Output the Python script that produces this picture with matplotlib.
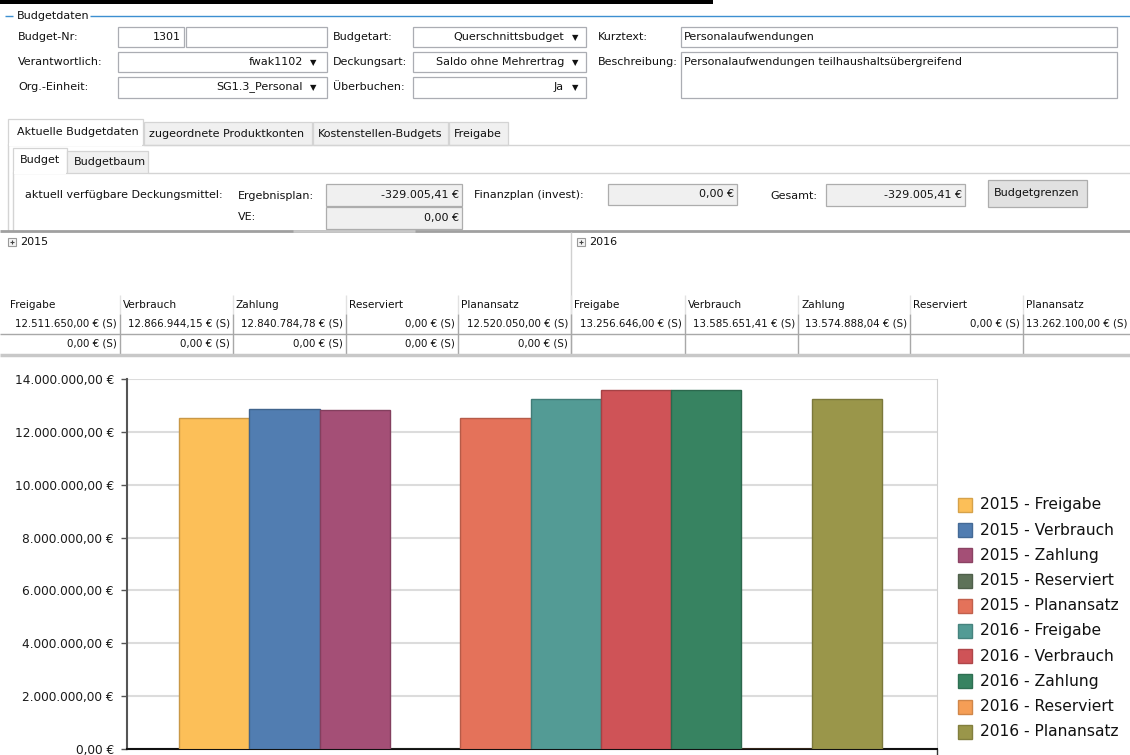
import matplotlib
matplotlib.use("Agg")
import matplotlib.pyplot as plt
from matplotlib.patches import Rectangle

plt.rcParams['font.family'] = ['DejaVu Sans']

# ---------------- data ----------------
years = ["2015", "2016"]
measures = ["Freigabe", "Verbrauch", "Zahlung", "Reserviert", "Planansatz"]
values_2015 = [12511650.00, 12866944.15, 12840784.78, 0.00, 12520050.00]
values_2016 = [13256646.00, 13585651.41, 13574888.04, 0.00, 13262100.00]
values_2015_row2 = [0.00, 0.00, 0.00, 0.00, 0.00]
series_labels = [f"{y} - {m}" for y in years for m in measures]
series_values = values_2015 + values_2016
series_colors = ["#FCBF58", "#517DB1", "#A44F76", "#5E7259", "#E4725A",
                 "#539B95", "#CF5357", "#378361", "#F59E56", "#9A964A"]
y_ticks = [0, 2e6, 4e6, 6e6, 8e6, 10e6, 12e6, 14e6]

form_left = [("Budget-Nr:", "1301"), ("Verantwortlich:", "fwak1102"), ("Org.-Einheit:", "SG1.3_Personal")]
form_mid = [("Budgetart:", "Querschnittsbudget"), ("Deckungsart:", "Saldo ohne Mehrertrag"), ("Überbuchen:", "Ja")]
kurztext = "Personalaufwendungen"
beschreibung = "Personalaufwendungen teilhaushaltsübergreifend"
tabs = ["Aktuelle Budgetdaten", "zugeordnete Produktkonten", "Kostenstellen-Budgets", "Freigabe"]
subtabs = ["Budget", "Budgetbaum"]
ergebnisplan = -329005.41
ve = 0.00
finanzplan = 0.00
gesamt = -329005.41


def de(v, dec=2):
    s = f"{v:,.{dec}f}"
    return s.replace(",", "X").replace(".", ",").replace("X", ".")


# ---------------- figure ----------------
W, H = 1130, 755
fig = plt.figure(figsize=(W / 100, H / 100), dpi=100)
ui = fig.add_axes([0, 0, 1, 1])
ui.set_xlim(0, W)
ui.set_ylim(H, 0)
ui.axis("off")

FS = 8.0
BOX_EC = "#abadb3"


def box(x0, y0, x1, y1, fc="white", ec=BOX_EC, lw=0.9):
    ui.add_patch(Rectangle((x0, y0), x1 - x0, y1 - y0, fc=fc, ec=ec, lw=lw))


def txt(x, y, s, ha="left", size=FS, color="#111111"):
    ui.text(x, y, s, ha=ha, va="center", fontsize=size, color=color)


def hline(y, x0, x1, color, lw=1.0):
    ui.plot([x0, x1], [y, y], color=color, lw=lw, solid_capstyle="butt")


def vline(x, y0, y1, color, lw=1.0):
    ui.plot([x, x], [y0, y1], color=color, lw=lw, solid_capstyle="butt")


# top black bar
ui.add_patch(Rectangle((0, 0), 713, 4, fc="black", ec="none"))

# group header
hline(16, 5, 13, "#3d8fd1", 1.0)
txt(17, 16, "Budgetdaten")
hline(16, 90, W, "#3d8fd1", 1.0)

rows_y = [37, 62, 87]
rows_box = [(27, 47), (52, 72), (77, 98)]
for i, ((lab, val), (lab2, val2)) in enumerate(zip(form_left, form_mid)):
    yc = rows_y[i]
    y0, y1 = rows_box[i]
    txt(18, yc, lab)
    if i == 0:
        box(118, y0, 184, y1)
        box(186, y0, 327, y1)
        txt(181, yc, val, ha="right")
    else:
        box(118, y0, 327, y1)
        txt(303, yc, val, ha="right")
        txt(313, yc + 1, "▼", ha="center", size=6)
    txt(333, yc, lab2)
    box(413, y0, 586, y1)
    txt(564, yc, val2, ha="right")
    txt(575, yc + 1, "▼", ha="center", size=6)

txt(598, 37, "Kurztext:")
box(681, 27, 1117, 47)
txt(684, 37, kurztext)
txt(598, 62, "Beschreibung:")
box(681, 52, 1117, 98)
txt(684, 62, beschreibung)

# tabs
TAB_EC = "#d4d4d4"
hline(144.5, 143, W, TAB_EC)
tab_x = [(8, 143), (144, 312), (313, 448), (449, 508)]
for i, (t, (x0, x1)) in enumerate(zip(tabs, tab_x)):
    if i == 0:
        box(x0, 119, x1, 145, fc="white", ec=TAB_EC)
        ui.add_patch(Rectangle((x0 + 0.8, 143), x1 - x0 - 1.6, 3, fc="white", ec="none", zorder=3))
        txt(x0 + 9, 132, t)
    else:
        box(x0, 122, x1, 144.5, fc="#f0f0f0", ec=TAB_EC)
        txt(x0 + 5, 134, t)
vline(8, 144, 231, TAB_EC)

hline(172.5, 148, W, TAB_EC)
sub_x = [(13, 67), (67, 148)]
for i, (t, (x0, x1)) in enumerate(zip(subtabs, sub_x)):
    if i == 0:
        box(x0, 148, x1, 173, fc="white", ec=TAB_EC)
        ui.add_patch(Rectangle((x0 + 0.8, 171), x1 - x0 - 1.6, 3, fc="white", ec="none", zorder=3))
        txt(x0 + 7, 160, t)
    else:
        box(x0, 151, x1, 172.5, fc="#f0f0f0", ec=TAB_EC)
        txt(x0 + 7, 162, t)
vline(13, 172, 231, TAB_EC)

# Deckungsmittel row
DIS = "#f0f0f0"
DIS_EC = "#adadad"
txt(25, 195, "aktuell verfügbare Deckungsmittel:")
txt(238, 196, "Ergebnisplan:")
box(326, 184, 462, 206, fc=DIS, ec=DIS_EC)
txt(459, 195, de(ergebnisplan) + " €", ha="right")
txt(474, 195, "Finanzplan (invest):")
box(608, 184, 737, 205, fc=DIS, ec=DIS_EC)
txt(734, 194, de(finanzplan) + " €", ha="right")
txt(770, 196, "Gesamt:")
box(826, 184, 965, 206, fc=DIS, ec=DIS_EC)
txt(962, 195, de(gesamt) + " €", ha="right")
box(988, 180, 1087, 207, fc="#e1e1e1", ec=DIS_EC)
txt(1037, 193, "Budgetgrenzen", ha="center")
txt(238, 217, "VE:")
box(326, 207, 462, 229, fc=DIS, ec=DIS_EC)
txt(459, 218, de(ve) + " €", ha="right")

# separator
hline(231, 0, W, "#a0a0a0", 2.0)
hline(231, 293, 415, "#c8c8c8", 2.0)

# pivot table
for x, y in zip([8, 577], years):
    box(x, 238, x + 8, 246, fc="#f4f4f4", ec="#9a9a9a", lw=0.8)
    hline(242, x + 2, x + 6, "#444444", 0.8)
    vline(x + 4, 240, 244, "#444444", 0.8)
    txt(x + 12, 242, y)

vline(571, 232, 355, "#d0d0d0")
col_edges = [7, 120, 233, 346, 458, 571, 685, 798, 910, 1023, 1131]
for x in col_edges[1:-1]:
    vline(x, 295, 314, "#e2e2e2")
    vline(x, 314, 354, "#a8a8a8")
hline(333.5, 0, W, "#a8a8a8")
hline(355, 0, W, "#c8c8c8", 2.5)

all_headers = measures + measures
row1_vals = values_2015 + values_2016
for j in range(10):
    x0, x1 = col_edges[j], col_edges[j + 1]
    txt(x0 + 3, 305, all_headers[j], size=7.6)
    txt(x1 - 3, 323, de(row1_vals[j]) + " € (S)", ha="right", size=7.4)
    if j < 5:
        txt(x1 - 3, 343, de(values_2015_row2[j]) + " € (S)", ha="right", size=7.4)

# ---------------- chart ----------------
ax = fig.add_axes([127 / W, (H - 749) / H, 810 / W, 370 / H])
ax.set_facecolor("white")
xpos = list(range(len(series_values)))


def darker(c, f=0.8):
    c = c.lstrip("#")
    r, g, b = (int(c[k:k + 2], 16) for k in (0, 2, 4))
    return "#%02x%02x%02x" % (int(r * f), int(g * f), int(b * f))


ax.bar(xpos, series_values, width=1.0, color=series_colors,
       edgecolor=[darker(c) for c in series_colors], linewidth=1.0, zorder=3)
ax.set_xlim(-0.5 - 52 / 70.3, 9.5 + 55 / 70.3)
ax.set_ylim(0, 14e6)
ax.set_yticks(y_ticks)
ax.set_yticklabels([de(v) + " €" for v in y_ticks], fontsize=8.7, color="#1a1a1a")
ax.yaxis.grid(True, color="#dcdcdc", lw=1.5, zorder=0)
ax.set_xticks([ax.get_xlim()[1]])
ax.set_xticklabels([""])
ax.tick_params(axis="y", length=4.5, width=1, color="#555555", pad=5)
ax.tick_params(axis="x", length=4, width=1, color="#333333")
ax.spines["top"].set_visible(False)
ax.spines["right"].set_color("#d0d0d0")
ax.spines["left"].set_color("#555555")
ax.spines["left"].set_linewidth(1.5)
ax.spines["bottom"].set_color("#111111")
ax.spines["bottom"].set_linewidth(1.5)
ax.set_axisbelow(True)

# legend
for i, (lab, col) in enumerate(zip(series_labels, series_colors)):
    yc = 505 + 25.2 * i
    ui.add_patch(Rectangle((958, yc - 7), 14, 14, fc=col, ec=darker(col, 0.85), lw=1.0))
    ui.text(980, yc, lab, ha="left", va="center", fontsize=11.2, color="#111111")

fig.savefig("out.png", dpi=100)
